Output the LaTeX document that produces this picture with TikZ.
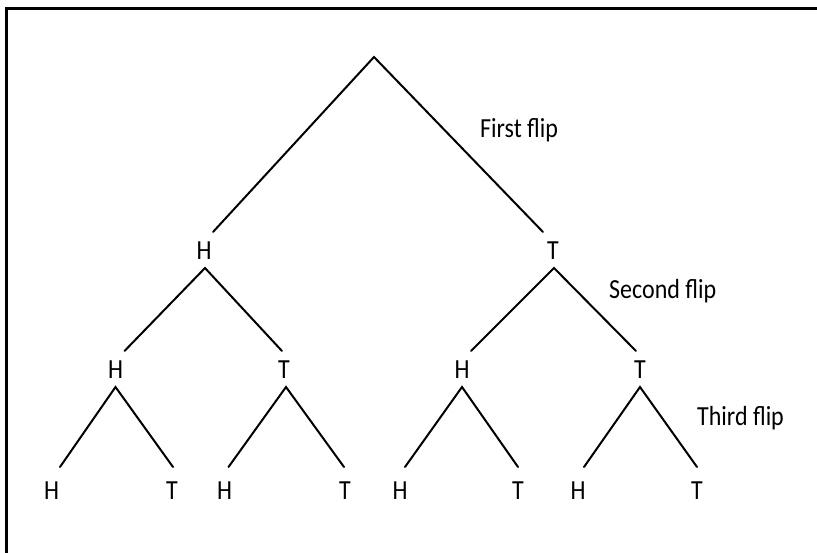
\documentclass[tikz,border=0pt]{standalone}
\usepackage{fontspec}
\usepackage{graphicx}
\setmainfont{Carlito}
\usetikzlibrary{calc}
\newcommand\tallt[1]{\scalebox{1}[1.15]{#1}}
\begin{document}
\begin{tikzpicture}[x=1pt,y=-1pt,
  lbl/.style={font=\fontsize{24}{28}\selectfont, inner sep=0pt, anchor=base},
  flipnote/.style={font=\fontsize{24}{28}\selectfont, inner sep=0pt, anchor=base west},
  branch/.style={line width=2pt, line cap=round},
  frame/.style={line width=3pt}]
\useasboundingbox (0,0) rectangle (817,553);
\draw[frame] (6.5,570) -- (6.5,8.5) -- (840,8.5);

\coordinate (root) at (374,57);
% level 1
\node[lbl] (H1) at (204,260) {\tallt{H}};
\node[lbl] (T1) at (553,260) {\tallt{T}};
% level 2
\node[lbl] (HH) at (115.5,378) {\tallt{H}};
\node[lbl] (HT) at (284,378) {\tallt{T}};
\node[lbl] (TH) at (462,378) {\tallt{H}};
\node[lbl] (TT) at (640,378) {\tallt{T}};
% level 3
\node[lbl] (HHH) at (51.5,499) {\tallt{H}};
\node[lbl] (HHT) at (172,499) {\tallt{T}};
\node[lbl] (HTH) at (224.5,499) {\tallt{H}};
\node[lbl] (HTT) at (345,499) {\tallt{T}};
\node[lbl] (THH) at (400,499) {\tallt{H}};
\node[lbl] (THT) at (518,499) {\tallt{T}};
\node[lbl] (TTH) at (578,499) {\tallt{H}};
\node[lbl] (TTT) at (697,499) {\tallt{T}};

% notes
\node[flipnote] (n1) at (480,138) {\tallt{First flip}};
\node[flipnote] (n2) at (609,299) {\tallt{Second flip}};
\node[flipnote] (n3) at (697,425) {\tallt{Third flip}};

% branches level 1
\draw[branch] ($(H1.base)+(9,-28)$) -- (root) -- ($(T1.base)+(-10,-28)$);
% level 2
\draw[branch] ($(HH.base)+(9,-27)$) -- ($(H1.base)+(1,8)$) -- ($(HT.base)+(-2,-27)$);
\draw[branch] ($(TH.base)+(9,-27)$) -- ($(T1.base)+(1,8)$) -- ($(TT.base)+(-4,-27)$);
% level 3
\draw[branch] ($(HHH.base)+(8.5,-32)$) -- ($(HH.base)+(0,9)$) -- ($(HHT.base)+(1,-32)$);
\draw[branch] ($(HTH.base)+(4,-32)$) -- ($(HT.base)+(2,9)$) -- ($(HTT.base)+(-1,-32)$);
\draw[branch] ($(THH.base)+(5,-32)$) -- ($(TH.base)+(0,9)$) -- ($(THT.base)+(0,-32)$);
\draw[branch] ($(TTH.base)+(6,-32)$) -- ($(TT.base)+(0,9)$) -- ($(TTT.base)+(0,-32)$);
\end{tikzpicture}
\end{document}
